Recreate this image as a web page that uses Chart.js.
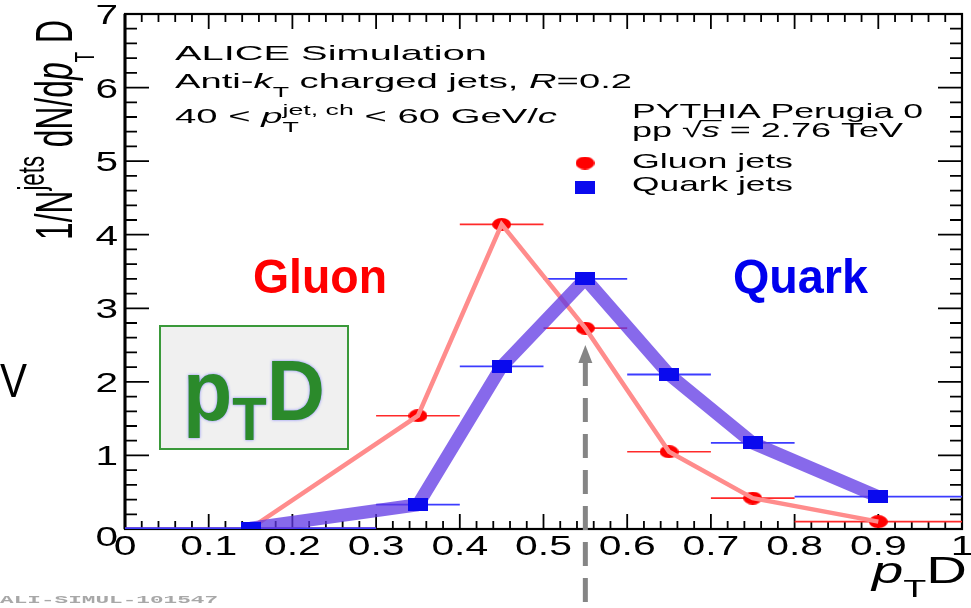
<!DOCTYPE html>
<html>
<head>
<meta charset="utf-8">
<script src="https://cdn.jsdelivr.net/npm/chart.js@4.4.1/dist/chart.umd.min.js"></script>
<style>
  html, body { margin: 0; padding: 0; background: #fff; }
</style>
</head>
<body>
<canvas id="ptdChart" width="971" height="608"></canvas>
<script>
// bins of pTD (x) and the normalised yields
const binLo     = [0.0, 0.3, 0.4, 0.5, 0.6, 0.7, 0.8];
const binHi     = [0.3, 0.4, 0.5, 0.6, 0.7, 0.8, 1.0];
const binCenter = [0.15, 0.35, 0.45, 0.55, 0.65, 0.75, 0.9];
const gluonVals = [0.01, 1.54, 4.14, 2.73, 1.05, 0.42, 0.10];
const quarkVals = [0.01, 0.33, 2.21, 3.40, 2.10, 1.17, 0.44];

const xTicks      = [0, 0.1, 0.2, 0.3, 0.4, 0.5, 0.6, 0.7, 0.8, 0.9, 1];
const xTickLabels = ["0", "0.1", "0.2", "0.3", "0.4", "0.5", "0.6", "0.7", "0.8", "0.9", "1"];
const yTicks      = [0, 1, 2, 3, 4, 5, 6, 7];
const yTickLabels = ["0", "1", "2", "3", "4", "5", "6", "7"];

const arrowAt  = 0.55;   // dashed arrow marks this pTD value
const arrowTip = 2.5;

const SANS = '"Liberation Sans", Arial, sans-serif';

// ROOT style markers (a bit squashed, like the picture)
function markerCanvas(w, h, color, shape) {
    const c = document.createElement("canvas");
    c.width = w; c.height = h;
    const g = c.getContext("2d");
    g.fillStyle = color;
    if (shape === "circle") {
        g.beginPath();
        g.ellipse(w / 2, h / 2, w / 2, h / 2, 0, 0, Math.PI * 2);
        g.fill();
    } else {
        g.fillRect(0, 0, w, h);
    }
    return c;
}
const redDot  = markerCanvas(19, 13, "#ff0000", "circle");
const blueBox = markerCanvas(20, 13, "#0a0aee", "rect");

function points(vals) {
    return binCenter.map((x, i) => ({ x: x, y: vals[i] }));
}
function errBars(vals) {
    const out = [];
    vals.forEach((v, i) => {
        out.push({ x: binLo[i], y: v }, { x: binHi[i], y: v }, { x: binHi[i], y: null });
    });
    return out;
}

// text with sub/superscripts, optionally stretched to a width
function drawText(ctx, segs, o) {
    const fam = o.family || SANS;
    const fontFor = seg => (seg.italic ? "italic " : "") + (o.bold ? "bold " : "") +
        (o.size * (seg.s || 1)) + "px " + fam;
    let nat = 0;
    segs.forEach(seg => {
        ctx.font = fontFor(seg);
        if (!seg.noAdv) nat += ctx.measureText(seg.t).width;
    });
    const sx = o.w ? o.w / nat : (o.sx || 1);
    let x0 = 0;
    if (o.align === "center") x0 = -nat / 2;
    if (o.align === "right") x0 = -nat;
    ctx.save();
    ctx.translate(o.x, o.y);
    if (o.rot) ctx.rotate(o.rot);
    ctx.scale(sx, o.sy || 1);
    ctx.fillStyle = o.color || "#000";
    ctx.strokeStyle = o.color || "#000";
    ctx.textAlign = "left";
    ctx.textBaseline = "alphabetic";
    if (o.shadow) {
        ctx.shadowColor = o.shadow;
        ctx.shadowBlur = 3;
    }
    let cx = x0;
    segs.forEach(seg => {
        ctx.font = fontFor(seg);
        const w = ctx.measureText(seg.t).width;
        ctx.fillText(seg.t, cx, (seg.dy || 0) * o.size);
        if (seg.over) {
            // bar of the square root over the argument
            ctx.lineWidth = 1.2;
            ctx.beginPath();
            ctx.moveTo(cx - 1, -o.size * 0.78);
            ctx.lineTo(cx + w + 1, -o.size * 0.78);
            ctx.stroke();
        }
        if (!seg.noAdv) cx += w;
    });
    ctx.restore();
}

const frameAndAxes = {
    id: "frameAndAxes",
    beforeDatasetsDraw(chart) {
        const { ctx, chartArea: a, scales: { x, y } } = chart;
        ctx.save();
        ctx.strokeStyle = "#000";
        ctx.lineWidth = 1.8;
        ctx.beginPath();
        for (let i = 0; i < xTicks.length; i++) {
            const sub = i < xTicks.length - 1 ? 5 : 1;
            for (let k = 0; k < sub; k++) {
                const v = xTicks[i] + (i < xTicks.length - 1 ? (xTicks[i + 1] - xTicks[i]) * k / 5 : 0);
                const px = x.getPixelForValue(v);
                const len = k === 0 ? 15 : 8;
                ctx.moveTo(px, a.bottom); ctx.lineTo(px, a.bottom - len);
                ctx.moveTo(px, a.top);    ctx.lineTo(px, a.top + len);
            }
        }
        for (let i = 0; i < yTicks.length; i++) {
            const sub = i < yTicks.length - 1 ? 5 : 1;
            for (let k = 0; k < sub; k++) {
                const v = yTicks[i] + (i < yTicks.length - 1 ? (yTicks[i + 1] - yTicks[i]) * k / 5 : 0);
                const py = y.getPixelForValue(v);
                const len = k === 0 ? 24 : 12;
                ctx.moveTo(a.left, py);  ctx.lineTo(a.left + len, py);
                ctx.moveTo(a.right, py); ctx.lineTo(a.right - len, py);
            }
        }
        ctx.stroke();
        ctx.lineWidth = 2.2;
        ctx.strokeRect(a.left, a.top, a.right - a.left, a.bottom - a.top);
        ctx.lineWidth = 3;
        ctx.beginPath();
        ctx.moveTo(a.left, a.top); ctx.lineTo(a.left, a.bottom);
        ctx.stroke();

        // tick labels
        xTicks.forEach((v, i) => {
            drawText(ctx, [{ t: xTickLabels[i] }], {
                x: x.getPixelForValue(v), y: a.bottom + 26, size: 28, sx: 1.46, align: "center"
            });
        });
        yTicks.forEach((v, i) => {
            drawText(ctx, [{ t: yTickLabels[i] }], {
                x: a.left - 7, y: y.getPixelForValue(v) + 10 + (i === 0 ? 7 : 0), size: 27, sx: 1.5, align: "right"
            });
        });

        // axis titles
        drawText(ctx, [{ t: "p", italic: 1 }, { t: "T", s: 0.67, dy: 0.39 }, { t: "D" }], {
            x: 872, y: 583, size: 36, w: 95
        });
        drawText(ctx, [
            { t: "1/N" }, { t: "jets", s: 0.7, dy: -0.55 }, { t: " dN/d" }, { t: "p", italic: 1 },
            { t: "T", s: 0.55, dy: 0.42 }, { t: " D" }
        ], { x: 72, y: 240, size: 30, w: 220, sy: 1.72, rot: -Math.PI / 2 });

        // pTD badge
        ctx.fillStyle = "#f0f0f0";
        ctx.fillRect(160, 326, 188, 123);
        ctx.strokeStyle = "#3a993a";
        ctx.lineWidth = 2;
        ctx.strokeRect(160, 326, 188, 123);
        ctx.restore();
        drawText(ctx, [{ t: "p" }, { t: "T", s: 0.7, dy: 0.23 }, { t: "D" }], {
            x: 183, y: 420, size: 86, bold: true, w: 142, color: "#2b8a2b", shadow: "rgba(120,120,255,0.9)"
        });
    },
    afterDatasetsDraw(chart) {
        const { ctx, scales: { x, y } } = chart;
        ctx.save();
        // dashed arrow
        const ax = x.getPixelForValue(arrowAt);
        const tip = y.getPixelForValue(arrowTip);
        ctx.fillStyle = "#858585";
        ctx.beginPath();
        ctx.moveTo(ax, tip);
        ctx.lineTo(ax - 7, tip + 18);
        ctx.lineTo(ax + 7, tip + 18);
        ctx.closePath();
        ctx.fill();
        ctx.strokeStyle = "#858585";
        ctx.lineWidth = 5;
        ctx.setLineDash([24, 12]);
        ctx.beginPath();
        ctx.moveTo(ax, tip + 17);
        ctx.lineTo(ax, chart.height);
        ctx.stroke();
        ctx.setLineDash([]);

        // legend
        ctx.drawImage(redDot, 585 - redDot.width / 2, 163 - redDot.height / 2);
        ctx.drawImage(blueBox, 585 - blueBox.width / 2, 187 - blueBox.height / 2);
        ctx.restore();

        drawText(ctx, [{ t: "ALICE Simulation" }], { x: 175, y: 60, size: 21, w: 312 });
        drawText(ctx, [{ t: "Anti-" }, { t: "k", italic: 1 }, { t: "T", s: 0.7, dy: 0.42 },
            { t: " charged jets, " }, { t: "R", italic: 1 }, { t: "=0.2" }], { x: 175, y: 88, size: 21, w: 457 });
        drawText(ctx, [{ t: "40 < " }, { t: "p", italic: 1 }, { t: "T", s: 0.7, dy: 0.45, noAdv: 1 },
            { t: "jet, ch", s: 0.7, dy: -0.4 }, { t: " < 60 GeV/" }, { t: "c", italic: 1 }],
            { x: 175, y: 123, size: 21, w: 382 });
        drawText(ctx, [{ t: "PYTHIA Perugia 0" }], { x: 632, y: 118, size: 21, w: 291 });
        drawText(ctx, [{ t: "pp " }, { t: "\u221A" }, { t: "s", italic: 1, over: 1 }, { t: " = 2.76 TeV" }],
            { x: 632, y: 137, size: 21, w: 271 });
        drawText(ctx, [{ t: "Gluon jets" }], { x: 632, y: 168, size: 21, w: 161 });
        drawText(ctx, [{ t: "Quark jets" }], { x: 632, y: 191, size: 21, w: 161 });

        drawText(ctx, [{ t: "Gluon" }], { x: 253, y: 293, size: 49, bold: true, w: 134, color: "#ff0000" });
        drawText(ctx, [{ t: "Quark" }], { x: 733, y: 293, size: 49, bold: true, w: 135, color: "#0000ee" });

        drawText(ctx, [{ t: "V" }], { x: 0, y: 397, size: 49, w: 27 });
        drawText(ctx, [{ t: "ALI-SIMUL-101547" }], {
            x: 0, y: 603, size: 11, bold: true, w: 218, color: "#a8a8a8", family: '"Liberation Mono", monospace'
        });
    }
};

new Chart(document.getElementById("ptdChart"), {
    type: "scatter",
    data: {
        datasets: [
            {
                label: "gluon err",
                data: errBars(gluonVals),
                showLine: true,
                spanGaps: false,
                borderColor: "#ff2a2a",
                borderWidth: 1.6,
                pointRadius: 0,
                order: 6
            },
            {
                label: "quark err",
                data: errBars(quarkVals),
                showLine: true,
                spanGaps: false,
                borderColor: "#3c3cff",
                borderWidth: 1.8,
                pointRadius: 0,
                order: 5
            },
            {
                label: "Gluon jets",
                data: points(gluonVals),
                pointStyle: redDot,
                pointRadius: 8,
                order: 4
            },
            {
                label: "gluon line",
                data: points(gluonVals),
                showLine: true,
                borderColor: "#ff8c8c",
                borderWidth: 4.5,
                pointRadius: 0,
                order: 3
            },
            {
                label: "quark line",
                data: points(quarkVals),
                showLine: true,
                borderColor: "rgba(95, 55, 228, 0.75)",
                borderWidth: 13,
                borderJoinStyle: "round",
                pointRadius: 0,
                order: 2
            },
            {
                label: "Quark jets",
                data: points(quarkVals),
                pointStyle: blueBox,
                pointRadius: 8,
                order: 1
            }
        ]
    },
    options: {
        responsive: false,
        animation: false,
        devicePixelRatio: 1,
        layout: {
            padding: { left: 125, right: 4, top: 14, bottom: 79 }
        },
        scales: {
            x: { type: "linear", min: 0, max: 1, display: false },
            y: { type: "linear", min: 0, max: 7, display: false }
        },
        plugins: {
            legend: { display: false },
            tooltip: { enabled: false }
        }
    },
    plugins: [frameAndAxes]
});
</script>
</body>
</html>
